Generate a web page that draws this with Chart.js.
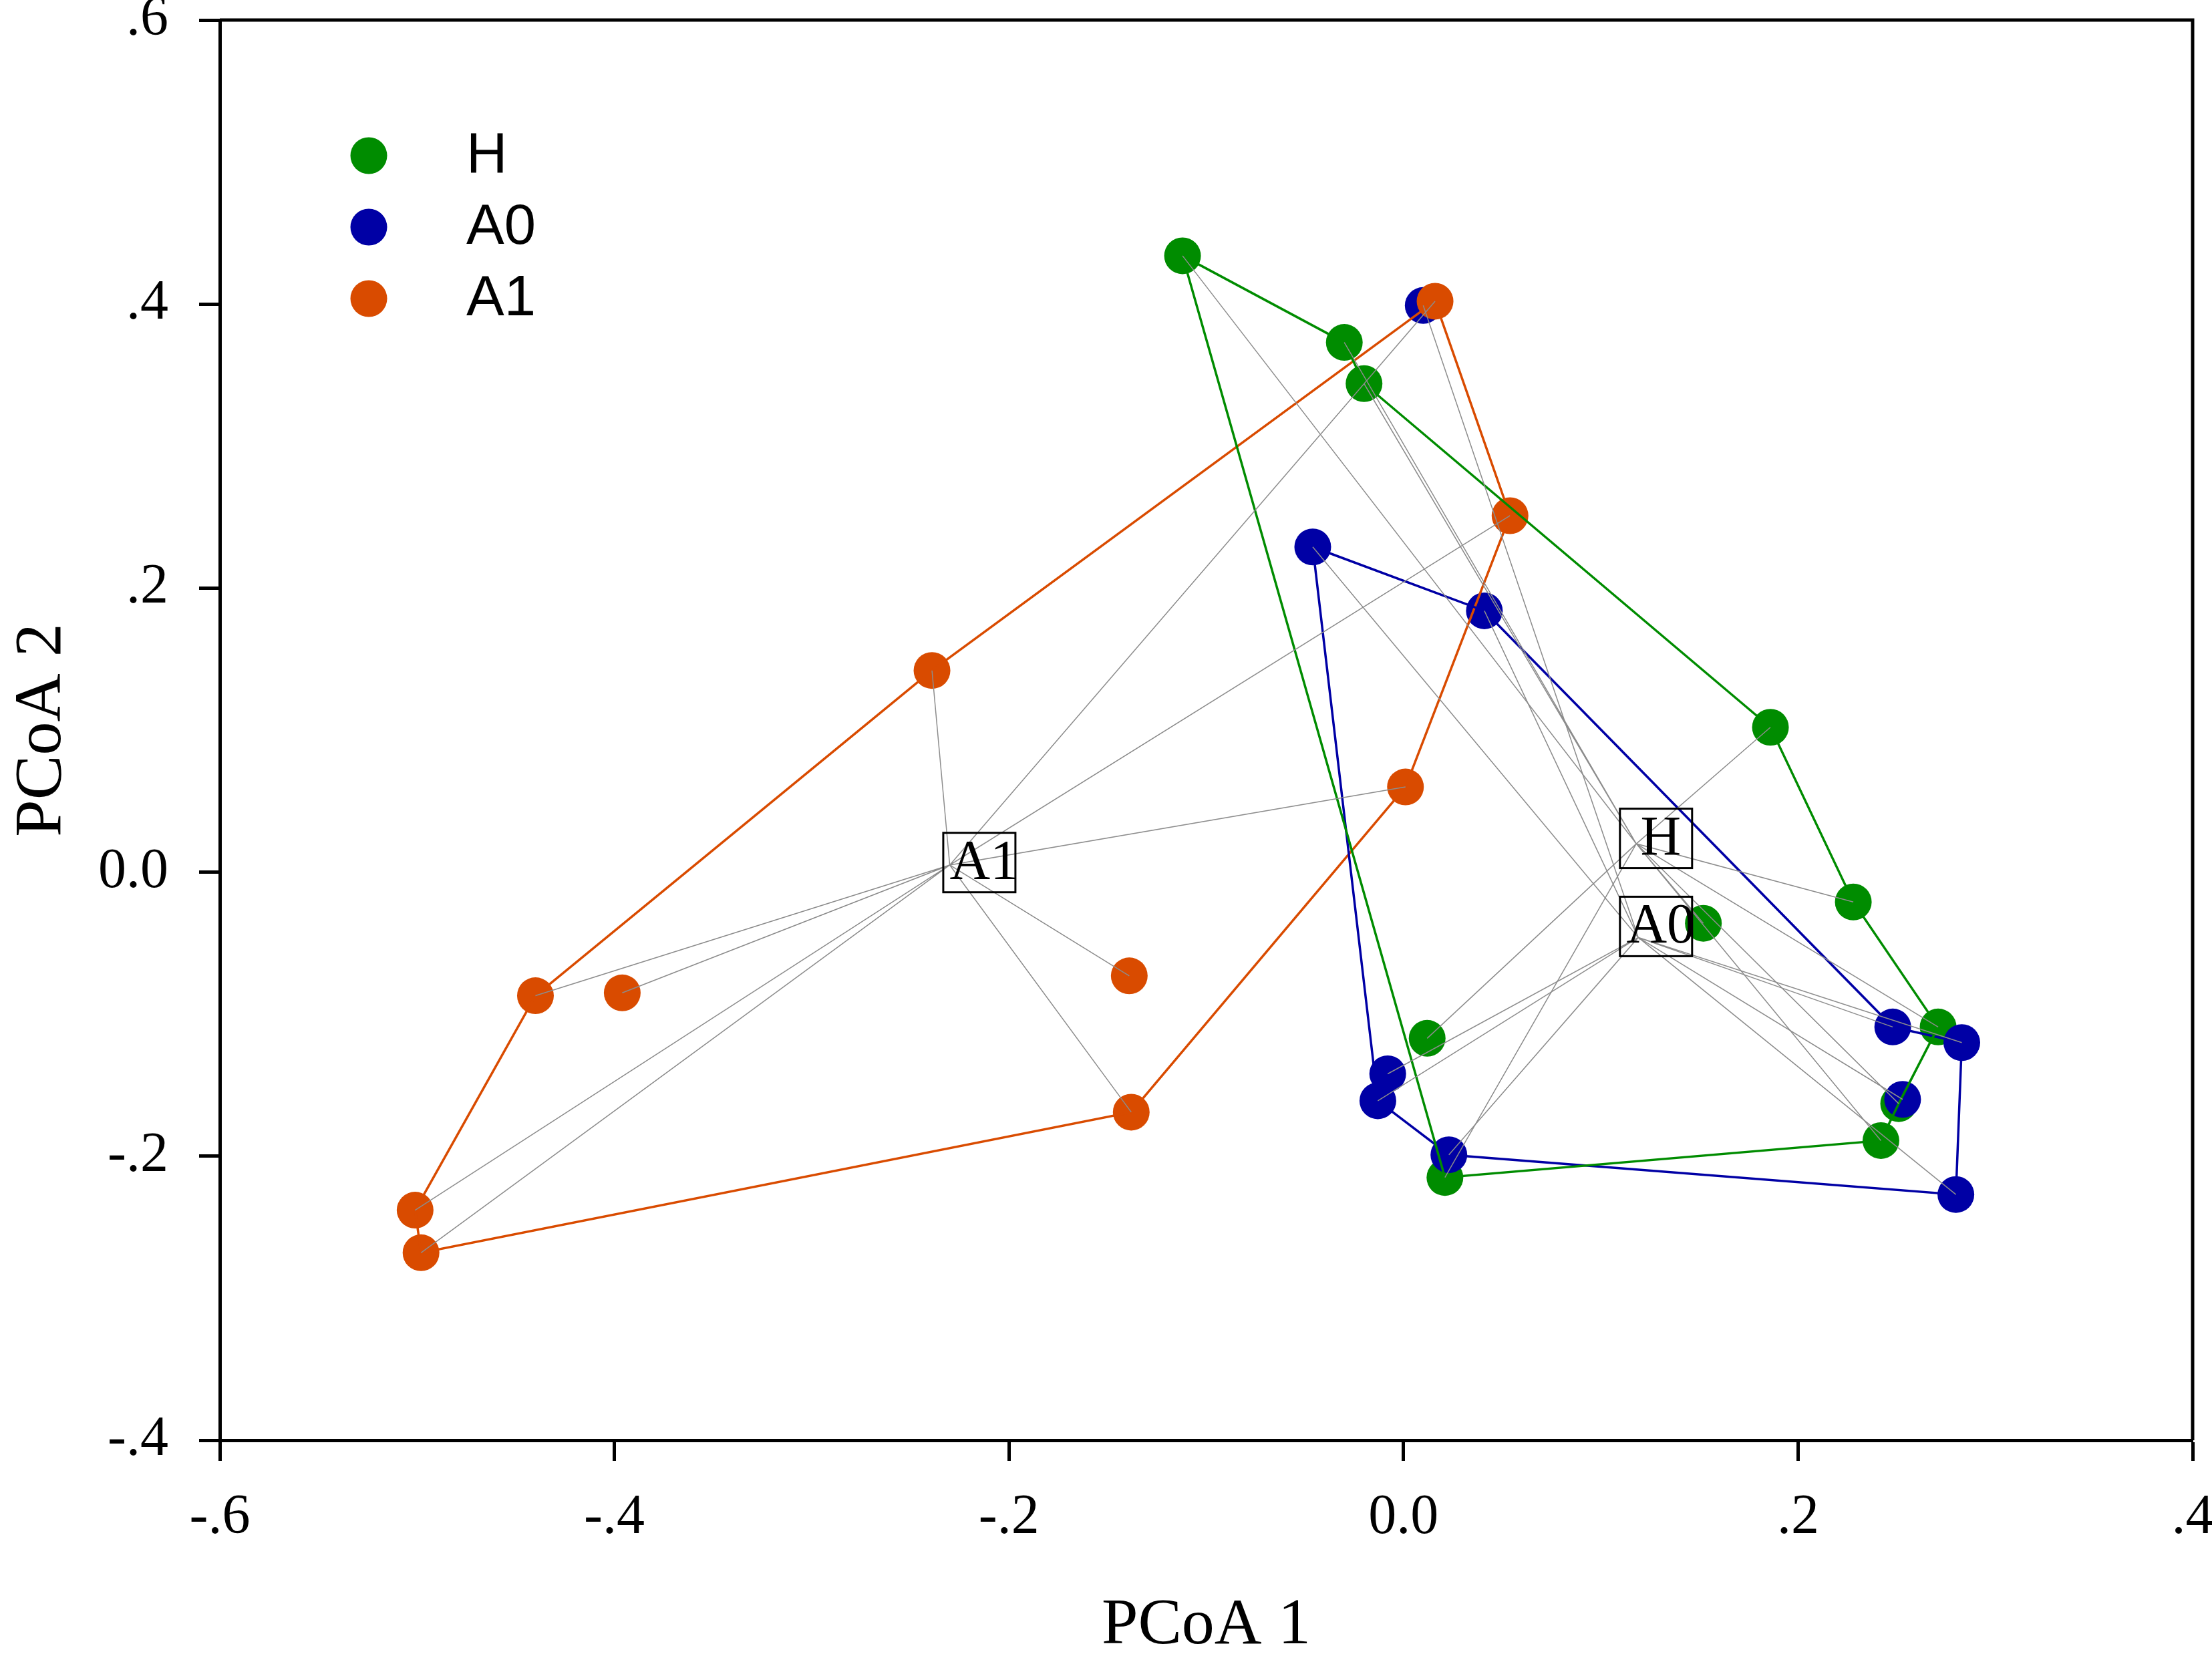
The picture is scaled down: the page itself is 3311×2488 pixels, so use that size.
<!DOCTYPE html>
<html>
<head>
<meta charset="utf-8">
<script src="https://cdn.jsdelivr.net/npm/chart.js@4/dist/chart.umd.min.js"></script>
<style>
	html, body { margin: 0; padding: 0; background: #fff; }
	canvas { display: block; }
</style>
</head>
<body>
<canvas id="pcoaChart" width="3311" height="2488"></canvas>
<script>
// groups and their PCoA scores
groups = ['H', 'A0', 'A1'];
hX = [-0.112, -0.030, -0.020, 0.186, 0.228, 0.152, 0.271, 0.012, 0.251, 0.242, 0.021];
hY = [0.434, 0.373, 0.344, 0.102, -0.021, -0.036, -0.109, -0.117, -0.163, -0.189, -0.215];
a0X = [0.010, -0.046, 0.041, 0.248, 0.283, -0.008, -0.013, 0.253, 0.023, 0.280];
a0Y = [0.399, 0.229, 0.184, -0.109, -0.120, -0.142, -0.161, -0.160, -0.199, -0.227];
a1X = [0.016, 0.054, -0.239, 0.001, -0.139, -0.440, -0.396, -0.138, -0.501, -0.498];
a1Y = [0.402, 0.251, 0.142, 0.060, -0.073, -0.087, -0.085, -0.169, -0.238, -0.268];

// hull outline, as point indices
hHull = [0, 1, 2, 3, 4, 6, 8, 9, 10, 0];
a0Hull = [1, 2, 3, 4, 9, 8, 6, 1];
a1Hull = [0, 1, 3, 7, 9, 8, 5, 2, 0];

// group centres (spider hubs) and label spots
hubX = [0.118, 0.119, -0.230];
hubY = [0.020, -0.046, 0.005];
labelX = [0.128, 0.128, -0.215];
labelY = [0.024, -0.038, 0.007];

xTicks = [-0.6, -0.4, -0.2, 0.0, 0.2, 0.4];
yTicks = [-0.4, -0.2, 0.0, 0.2, 0.4, 0.6];

colors = ['rgb(0, 140, 0)', 'rgb(0, 0, 165)', 'rgb(217, 75, 0)'];

allX = [hX, a0X, a1X];
allY = [hY, a0Y, a1Y];
hulls = [hHull, a0Hull, a1Hull];

function pts(xs, ys) {
	return xs.map(function(x, i) { return {x: x, y: ys[i]}; });
}

function fmt(v) {
	v = Math.round(v * 10) / 10;
	if (v === 0) return '0.0';
	return (v < 0 ? '-' : '') + Math.abs(v).toFixed(1).replace(/^0/, '');
}

datasets = [];
groups.forEach(function(g, k) {
	p = pts(allX[k], allY[k]);
	hub = {x: hubX[k], y: hubY[k]};
	spokes = [];
	p.forEach(function(q) { spokes.push(hub, q); });
	datasets.push({
		label: g + ' spokes',
		data: spokes,
		showLine: true,
		borderColor: 'rgb(140, 140, 140)',
		borderWidth: 1.5,
		pointRadius: 0,
		order: 0
	});
	datasets.push({
		label: g + ' hull',
		data: hulls[k].map(function(i) { return p[i]; }),
		showLine: true,
		borderColor: colors[k],
		borderWidth: 3.5,
		pointRadius: 0,
		order: 1
	});
	datasets.push({
		label: g,
		data: p,
		showLine: false,
		backgroundColor: colors[k],
		borderColor: colors[k],
		borderWidth: 0,
		pointRadius: 27.5,
		order: 4 - k
	});
});

decor = {
	id: 'decor',
	afterDatasetsDraw: function(chart) {
		c = chart.ctx;
		a = chart.chartArea;
		xs = chart.scales.x;
		ys = chart.scales.y;
		c.save();
		// frame top and right
		c.strokeStyle = '#000';
		c.lineWidth = 5;
		c.beginPath();
		c.moveTo(a.left, a.top);
		c.lineTo(a.right, a.top);
		c.lineTo(a.right, a.bottom);
		c.stroke();
		// group labels in boxes
		c.font = '84px "Liberation Serif", "Times New Roman", serif';
		c.textAlign = 'center';
		c.textBaseline = 'middle';
		c.lineWidth = 3;
		groups.forEach(function(g, k) {
			px = xs.getPixelForValue(labelX[k]);
			py = ys.getPixelForValue(labelY[k]);
			c.strokeRect(px - 54, py - 44, 108, 89);
			c.fillStyle = '#000';
			c.fillText(g, px + 7, py + 3);
		});
		// legend
		c.font = '85px "Liberation Sans", Arial, sans-serif';
		c.textAlign = 'left';
		groups.forEach(function(g, k) {
			ly = 233 + k * 107;
			c.fillStyle = colors[k];
			c.beginPath();
			c.arc(552, ly, 27.5, 0, Math.PI * 2);
			c.fill();
			c.fillStyle = '#000';
			c.fillText(g, 698, ly + 2);
		});
		c.restore();
	}
};

serif = {family: '"Liberation Serif", "Times New Roman", serif'};

ctx = document.getElementById('pcoaChart');
new Chart(ctx, {
	type: 'scatter',
	data: { datasets: datasets },
	plugins: [decor],
	options: {
		responsive: false,
		devicePixelRatio: 1,
		animation: false,
		layout: { padding: { top: 30, right: 29, bottom: 0, left: 0 } },
		plugins: {
			legend: { display: false },
			tooltip: { enabled: false }
		},
		scales: {
			x: {
				type: 'linear',
				min: -0.6,
				max: 0.4,
				afterBuildTicks: function(s) { s.ticks = xTicks.map(function(v) { return {value: v}; }); },
				afterFit: function(s) { s.height = 332; s.paddingLeft = 0; s.paddingRight = 0; },
				ticks: {
					callback: fmt,
					color: '#000',
					padding: 36,
					maxRotation: 0,
					autoSkip: false,
					font: { family: serif.family, size: 84 }
				},
				grid: { drawOnChartArea: false, drawTicks: true, tickLength: 31, tickWidth: 5, tickColor: '#000' },
				border: { display: true, width: 5, color: '#000' },
				title: {
					display: true,
					text: 'PCoA 1',
					color: '#000',
					padding: { top: 0, bottom: 0 },
					font: { family: serif.family, size: 98, lineHeight: 1.1 }
				}
			},
			y: {
				type: 'linear',
				min: -0.4,
				max: 0.6,
				afterBuildTicks: function(s) { s.ticks = yTicks.map(function(v) { return {value: v}; }); },
				afterFit: function(s) { s.width = 329; s.paddingTop = 0; s.paddingBottom = 0; },
				ticks: {
					callback: fmt,
					color: '#000',
					padding: 46,
					autoSkip: false,
					font: { family: serif.family, size: 84 }
				},
				grid: { drawOnChartArea: false, drawTicks: true, tickLength: 31, tickWidth: 5, tickColor: '#000' },
				border: { display: true, width: 5, color: '#000' },
				title: {
					display: true,
					text: 'PCoA 2',
					color: '#000',
					padding: { top: 4, bottom: 0 },
					font: { family: serif.family, size: 100, lineHeight: 1.2 }
				}
			}
		}
	}
});
</script>
</body>
</html>
